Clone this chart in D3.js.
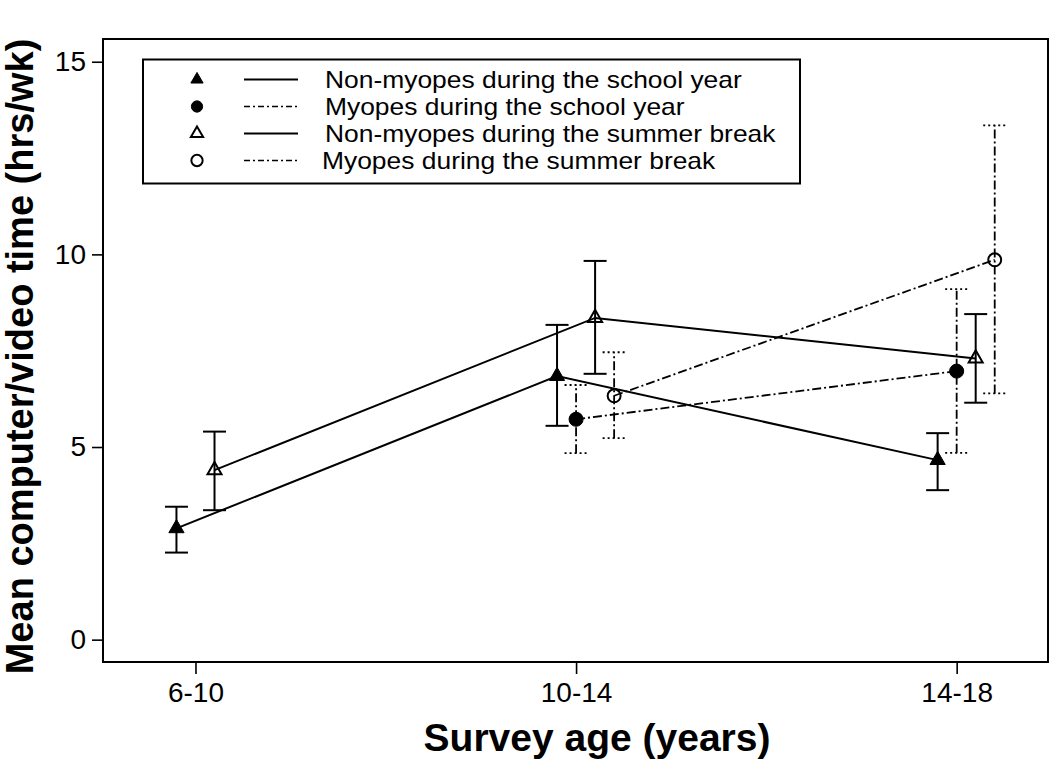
<!DOCTYPE html>
<html>
<head>
<meta charset="utf-8">
<script src="https://cdn.jsdelivr.net/npm/d3@7"></script>
<style>
  html, body { margin: 0; padding: 0; background: #fff; }
  #chart { width: 1050px; height: 760px; }
  text { font-family: "Liberation Sans", Arial, sans-serif; fill: #000; }
</style>
</head>
<body>
<div id="chart"></div>
<script>
// Mean computer/video time by survey age, myopes vs non-myopes,
// school year vs summer break. Means with error bars.
var ageGroups = ['6-10', '10-14', '14-18'];
var yTicks = [0, 5, 10, 15];

var nonMyopesSchool      = [2.89, 6.84, 4.66];
var nonMyopesSchoolLow   = [2.26, 5.55, 3.88];
var nonMyopesSchoolHigh  = [3.45, 8.17, 5.36];

var myopesSchool         = [null, 5.72, 6.97];
var myopesSchoolLow      = [null, 4.84, 4.85];
var myopesSchoolHigh     = [null, 6.61, 9.10];

var nonMyopesSummer      = [4.40, 8.35, 7.30];
var nonMyopesSummerLow   = [3.36, 6.90, 6.15];
var nonMyopesSummerHigh  = [5.40, 9.83, 8.45];

var myopesSummer         = [null, 6.33, 9.86];
var myopesSummerLow      = [null, 5.23, 6.39];
var myopesSummerHigh     = [null, 7.46, 13.35];

var seriesNames = [
    'Non-myopes during the school year',
    'Myopes during the school year',
    'Non-myopes during the summer break',
    'Myopes during the summer break'
];

(function () {
    var W = 1050, H = 760;
    var margin = { top: 39, right: 2, bottom: 98, left: 103 };
    var innerW = W - margin.left - margin.right;
    var innerH = H - margin.top - margin.bottom;

    var DASHDOT = '9,3,2,3';

    // marker: 'tri' / 'circle', filled or not; dodge in category units
    var series = [
        { name: seriesNames[0], mean: nonMyopesSchool, lo: nonMyopesSchoolLow, hi: nonMyopesSchoolHigh,
          shape: 'tri', filled: true, dash: null, dodge: -0.05 },
        { name: seriesNames[1], mean: myopesSchool, lo: myopesSchoolLow, hi: myopesSchoolHigh,
          shape: 'circle', filled: true, dash: DASHDOT, dodge: 0 },
        { name: seriesNames[2], mean: nonMyopesSummer, lo: nonMyopesSummerLow, hi: nonMyopesSummerHigh,
          shape: 'tri', filled: false, dash: null, dodge: 0.05 },
        { name: seriesNames[3], mean: myopesSummer, lo: myopesSummerLow, hi: myopesSummerHigh,
          shape: 'circle', filled: false, dash: DASHDOT, dodge: 0.1 }
    ];

    var svg = d3.select('#chart').append('svg')
        .attr('width', W).attr('height', H)
        .attr('viewBox', '0 0 ' + W + ' ' + H);

    var g = svg.append('g')
        .attr('transform', 'translate(' + margin.left + ',' + margin.top + ')');

    // category index -> px; ticks sit at 0,1,2
    var x = d3.scaleLinear().domain([-0.243, 2.240]).range([0, innerW]);
    var y = d3.scaleLinear().domain([-0.58, 15.59]).range([innerH, 0]);

    // Frame
    g.append('rect')
        .attr('x', 0).attr('y', 0)
        .attr('width', innerW).attr('height', innerH)
        .attr('fill', 'none').attr('stroke', '#000').attr('stroke-width', 2);

    // Axes
    var xAxis = g.append('g')
        .attr('transform', 'translate(0,' + innerH + ')')
        .call(d3.axisBottom(x).tickValues([0, 1, 2])
            .tickFormat(function (d) { return ageGroups[d]; })
            .tickSize(12).tickSizeOuter(0).tickPadding(8));
    var yAxis = g.append('g')
        .call(d3.axisLeft(y).tickValues(yTicks).tickSize(11).tickSizeOuter(0).tickPadding(6));

    [xAxis, yAxis].forEach(function (ax) {
        ax.select('.domain').remove();
        ax.selectAll('.tick line').attr('stroke', '#000').attr('stroke-width', 1.6);
        ax.selectAll('.tick text')
            .attr('fill', '#000')
            .style('font-family', '"Liberation Sans", Arial, sans-serif')
            .style('font-size', '28px');
    });

    function px(s, i) { return x(i + s.dodge); }

    function symbolPath(shape, size) {
        var t = shape === 'tri' ? d3.symbolTriangle : d3.symbolCircle;
        return d3.symbol().type(t).size(size)();
    }

    // Connecting lines
    series.forEach(function (s) {
        var pts = [];
        s.mean.forEach(function (v, i) { if (v != null) pts.push([px(s, i), y(v)]); });
        g.append('path')
            .attr('d', d3.line()(pts))
            .attr('fill', 'none')
            .attr('stroke', '#000')
            .attr('stroke-width', s.dash ? 1.8 : 2)
            .attr('stroke-dasharray', s.dash);
    });

    // Error bars
    var capHalf = 11.5;
    series.forEach(function (s) {
        s.mean.forEach(function (v, i) {
            if (v == null) return;
            var cx = px(s, i);
            var eb = g.append('g')
                .attr('stroke', '#000')
                .attr('stroke-width', s.dash ? 1.8 : 2)
                .attr('stroke-dasharray', s.dash ? s.dash : null);
            eb.append('line')
                .attr('x1', cx).attr('x2', cx)
                .attr('y1', y(s.lo[i])).attr('y2', y(s.hi[i]));
            [s.lo[i], s.hi[i]].forEach(function (e) {
                eb.append('line')
                    .attr('x1', cx - capHalf).attr('x2', cx + capHalf)
                    .attr('y1', y(e)).attr('y2', y(e))
                    .attr('stroke-dasharray', s.dash ? '2,3' : null);
            });
        });
    });

    // Markers
    series.forEach(function (s) {
        var size = s.shape === 'tri' ? 100 : 155;
        s.mean.forEach(function (v, i) {
            if (v == null) return;
            g.append('path')
                .attr('d', symbolPath(s.shape, s.filled ? size : size * 0.85))
                .attr('transform', 'translate(' + px(s, i) + ',' + y(v) + ')')
                .attr('fill', s.filled ? '#000' : 'none')
                .attr('stroke', '#000')
                .attr('stroke-width', s.filled ? 1 : 2);
        });
    });

    // Legend (rows kept just far enough apart so labels don't collide)
    var lg = svg.append('g');
    lg.append('rect')
        .attr('x', 143).attr('y', 59.5)
        .attr('width', 657).attr('height', 124)
        .attr('fill', '#fff').attr('stroke', '#000').attr('stroke-width', 2);
    var rowY = [79.5, 106.5, 133.5, 160.5];
    series.forEach(function (s, k) {
        var ry = rowY[k];
        lg.append('path')
            .attr('d', symbolPath(s.shape, s.shape === 'tri' ? 65 : 100))
            .attr('transform', 'translate(197,' + ry + ')')
            .attr('fill', s.filled ? '#000' : 'none')
            .attr('stroke', '#000')
            .attr('stroke-width', s.filled ? 1 : 2);
        lg.append('line')
            .attr('x1', 244).attr('x2', 298)
            .attr('y1', ry).attr('y2', ry)
            .attr('stroke', '#000').attr('stroke-width', s.dash ? 1.6 : 2)
            .attr('stroke-dasharray', s.dash ? '6,3,2,3' : null);
        var t = lg.append('text')
            .attr('x', k === 3 ? 322 : 325).attr('y', ry + 8.5)
            .style('font-size', '24px')
            .text(s.name);
        var len = t.node().getComputedTextLength();
        t.attr('textLength', len * 1.1).attr('lengthAdjust', 'spacingAndGlyphs');
    });

    // Axis titles
    svg.append('text')
        .attr('transform', 'translate(33,' + (margin.top + innerH / 2 + 6) + ') rotate(-90)')
        .attr('text-anchor', 'middle')
        .style('font-size', '38px').style('font-weight', 'bold')
        .text('Mean computer/video time (hrs/wk)');
    svg.append('text')
        .attr('x', 597).attr('y', 751)
        .attr('text-anchor', 'middle')
        .style('font-size', '39px').style('font-weight', 'bold')
        .text('Survey age (years)');
})();
</script>
</body>
</html>
